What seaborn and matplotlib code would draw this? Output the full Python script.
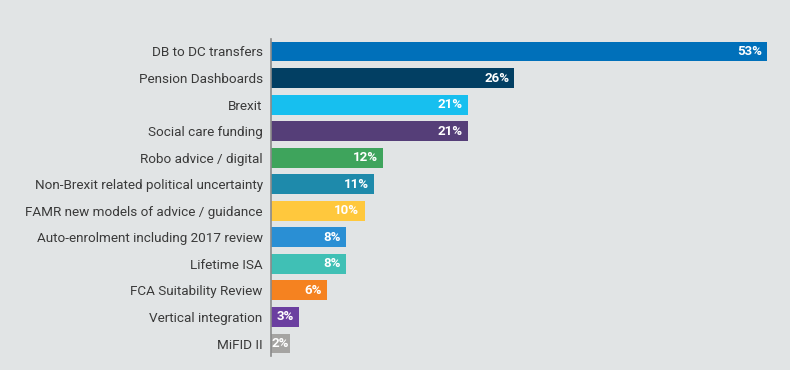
import matplotlib
matplotlib.use("Agg")
import matplotlib.pyplot as plt
import seaborn as sns
import pandas as pd

categories = [
    "DB to DC transfers",
    "Pension Dashboards",
    "Brexit",
    "Social care funding",
    "Robo advice / digital",
    "Non-Brexit related political uncertainty",
    "FAMR new models of advice / guidance",
    "Auto-enrolment including 2017 review",
    "Lifetime ISA",
    "FCA Suitability Review",
    "Vertical integration",
    "MiFID II",
]
values = [53, 26, 21, 21, 12, 11, 10, 8, 8, 6, 3, 2]
colors = [
    "#0070ba", "#023f63", "#17bfef", "#553e78", "#3ea45c", "#1e8aab",
    "#ffc83d", "#2a8fd4", "#40c0b5", "#f58220", "#6b3fa0", "#a5a4a2",
]

df = pd.DataFrame({"category": categories, "value": values})

bg = "#e1e4e5"
sns.set_theme(style="white")
plt.rcParams["font.family"] = ["Roboto", "DejaVu Sans"]

fig = plt.figure(figsize=(7.9, 3.7), dpi=100, facecolor=bg)
ax = fig.add_axes([271 / 790, 1 - 356 / 370, (785 - 271) / 790, (356 - 39) / 370])
ax.set_facecolor(bg)

sns.barplot(data=df, y="category", x="value", hue="category",
            palette=colors, dodge=False, legend=False, width=0.75,
            saturation=1, linewidth=0, ax=ax)

px_per_unit = 496 / 53
ax.set_xlim(0, (785 - 271) / px_per_unit)
ax.set_ylim(11.47, -0.47)

for i, v in enumerate(values):
    if v < 3:
        ax.text(0.1, i, f"{v}%", ha="left", va="center", color="white",
                fontsize=9.5, fontweight="bold")
    else:
        ax.text(v - 0.55, i, f"{v}%", ha="right", va="center", color="white",
                fontsize=9.5, fontweight="bold")

ax.set_xlabel("")
ax.set_ylabel("")
ax.set_xticks([])
ax.tick_params(axis="y", length=0, pad=6, labelsize=9.7, labelcolor="#3a3a3a")
for s in ["top", "right", "bottom"]:
    ax.spines[s].set_visible(False)
ax.spines["left"].set_color("#8a8a8a")
ax.spines["left"].set_linewidth(1.2)

fig.savefig("out.png", dpi=100, facecolor=bg)
